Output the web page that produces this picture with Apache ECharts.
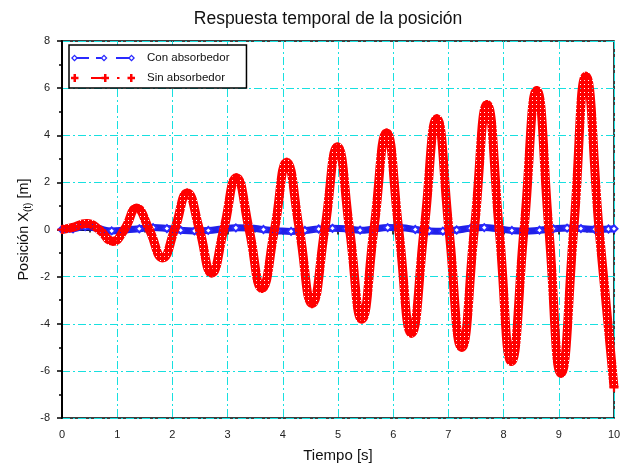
<!DOCTYPE html>
<html>
<head>
<meta charset="utf-8">
<title>Respuesta temporal de la posición</title>
<script src="https://cdn.jsdelivr.net/npm/echarts@6/dist/echarts.min.js"></script>
<style>
  html, body { margin: 0; padding: 0; background: #fff; }
  #main { width: 625px; height: 468px; }
</style>
</head>
<body>
<div id="main"></div>
<script>
// datos: [tiempo s, posicion m]
var conAbsorbedor = [
  [0, 0], [0.2, 0.03], [0.42, 0.12], [0.65, 0.04], [0.9, -0.06], [1.15, -0.02],
  [1.4, 0.03], [1.65, 0.08], [1.9, 0.04], [2.15, -0.03], [2.4, -0.06], [2.65, -0.04],
  [2.9, 0.02], [3.15, 0.07], [3.4, 0.06], [3.65, 0.0], [3.9, -0.05], [4.15, -0.08],
  [4.4, -0.04], [4.65, 0.02], [4.9, 0.05], [5.15, 0.03], [5.4, -0.03], [5.65, 0.02],
  [5.9, 0.08], [6.15, 0.07], [6.4, 0.0], [6.65, -0.06], [6.9, -0.07], [7.15, -0.02],
  [7.4, 0.05], [7.65, 0.08], [7.9, 0.03], [8.15, -0.04], [8.4, -0.07], [8.65, -0.03],
  [8.9, 0.03], [9.15, 0.06], [9.4, 0.04], [9.65, 0.01], [9.9, 0.02], [10, 0.03]
];
// picos, valles y pasos por cero del caso sin absorbedor
var sinAbsorbedor = [
  [0, 0], [0.18, 0.08], [0.45, 0.25], [0.67, 0], [0.92, -0.5], [1.13, 0],
  [1.35, 0.9], [1.58, 0], [1.82, -1.2], [2.04, 0], [2.27, 1.55], [2.49, 0],
  [2.71, -1.85], [2.93, 0], [3.16, 2.2], [3.39, 0], [3.62, -2.5], [3.85, 0],
  [4.07, 2.85], [4.30, 0], [4.53, -3.15], [4.76, 0], [4.99, 3.5], [5.21, 0],
  [5.43, -3.8], [5.65, 0], [5.88, 4.1], [6.10, 0], [6.33, -4.4], [6.56, 0],
  [6.79, 4.7], [7.01, 0], [7.24, -5.0], [7.47, 0], [7.70, 5.3], [7.92, 0],
  [8.14, -5.6], [8.37, 0], [8.60, 5.9], [8.82, 0], [9.04, -6.1], [9.27, 0],
  [9.49, 6.5], [9.73, 0], [10, -6.7]
];
var nombres = ['Con absorbedor', 'Sin absorbedor'];
var tiempoMin = 0, tiempoMax = 10, tiempoPaso = 1;
var posMin = -8, posMax = 8, posPaso = 2;

(function(){
    var myChart = echarts.init(document.getElementById('main'), null, { renderer: 'canvas' });
    var fuente = '"Liberation Sans", Arial, sans-serif';
    var cian = '#18e0e0';

    // textura de cruces para imitar la banda de marcadores '+'
    function texturaCruz(color) {
        var c = document.createElement('canvas');
        c.width = 4; c.height = 4;
        var ctx = c.getContext('2d');
        ctx.fillStyle = color;
        ctx.fillRect(0, 0, 4, 4);
        ctx.clearRect(0, 0, 1, 1);
        return c;
    }

    // iconos de la leyenda: marcador + trazo como en el original
    var iconoCon = 'path://M3.5 1.5L7 5L3.5 8.5L0 5Z M3.5 3.3L1.8 5L3.5 6.7L5.2 5Z' +
        'M6.5 4.1H18V5.9H6.5Z M25 4.1H30V5.9H25Z' +
        'M33 1.5L36.5 5L33 8.5L29.5 5Z M33 3.3L31.3 5L33 6.7L34.7 5Z' +
        'M45 4.1H57.5V5.9H45Z' +
        'M60.5 1.5L64 5L60.5 8.5L57 5Z M60.5 3.3L58.8 5L60.5 6.7L62.2 5Z';
    var iconoSin = 'path://M2.5 1H5V9H2.5Z M0 3.8H7.5V6.2H0Z' +
        'M20 4H34V6H20Z' +
        'M33 1H35.5V9H33Z M30.5 3.8H38V6.2H30.5Z' +
        'M46 4H48.5V6H46Z' +
        'M59 1H61.5V9H59Z M56.5 3.8H64V6.2H56.5Z';
    var cruz = 'path://M3 0H5V8H3Z M0 3H8V5H0Z';

    var option = {
        animation: false,
        backgroundColor: '#fff',
        title: {
            text: 'Respuesta temporal de la posición',
            left: 328,
            top: 10,
            padding: 0,
            textAlign: 'center',
            textStyle: { fontFamily: fuente, fontSize: 17.5, fontWeight: 'normal', color: '#111' }
        },
        grid: {
            left: 62, right: 11, top: 41, bottom: 48,
            show: true,
            borderColor: '#000',
            borderWidth: 1.5
        },
        legend: {
            orient: 'vertical',
            left: 69,
            top: 45,
            padding: [7, 17, 4, 2],
            itemGap: 8,
            itemWidth: 64,
            itemHeight: 10,
            backgroundColor: '#fff',
            borderColor: '#000',
            borderWidth: 1.5,
            borderRadius: 0,
            textStyle: { fontFamily: fuente, fontSize: 11.5, color: '#111', padding: [0, 0, 0, 7] },
            data: [
                { name: nombres[0], icon: iconoCon, itemStyle: { color: '#2a2aff', borderWidth: 0 } },
                { name: nombres[1], icon: iconoSin, itemStyle: { color: '#ff0000', borderWidth: 0 } }
            ]
        },
        xAxis: {
            type: 'value',
            min: tiempoMin, max: tiempoMax, interval: tiempoPaso,
            name: 'Tiempo [s]',
            nameLocation: 'middle',
            nameGap: 30,
            nameMoveOverlap: false,
            nameTextStyle: { fontFamily: fuente, fontSize: 15, color: '#111' },
            axisLine: { show: true, lineStyle: { color: '#000', width: 2 } },
            axisTick: { show: true, inside: false, length: 5, lineStyle: { color: '#000', width: 1.5 } },
            minorTick: { show: true, splitNumber: 2, length: 3, lineStyle: { color: '#000', width: 1.5 } },
            axisLabel: { margin: 11, fontFamily: fuente, fontSize: 11, color: '#222' },
            splitLine: { show: true, lineStyle: { color: cian, width: 1, type: [8, 3, 2, 3] } }
        },
        yAxis: {
            type: 'value',
            min: posMin, max: posMax, interval: posPaso,
            name: 'Posición X{sub|(t)} [m]',
            nameLocation: 'middle',
            nameGap: 29,
            nameMoveOverlap: false,
            nameTextStyle: {
                fontFamily: fuente, fontSize: 14.5, color: '#111',
                rich: { sub: { fontFamily: fuente, fontSize: 10, color: '#111', padding: [8, 0, 0, 0] } }
            },
            axisLine: { show: true, onZero: false, lineStyle: { color: '#000', width: 2 } },
            axisTick: { show: true, inside: false, length: 5, lineStyle: { color: '#000', width: 1.5 } },
            minorTick: { show: true, splitNumber: 2, length: 3, lineStyle: { color: '#000', width: 1.5 } },
            axisLabel: { margin: 12, fontFamily: fuente, fontSize: 11, color: '#222' },
            splitLine: { show: true, lineStyle: { color: cian, width: 1, type: [8, 3, 2, 3] } }
        },
        series: [
            {
                name: nombres[0],
                type: 'line',
                data: conAbsorbedor,
                smooth: true,
                symbol: 'emptyDiamond',
                symbolSize: 7,
                showAllSymbol: true,
                itemStyle: { color: '#2a2aff', borderWidth: 1 },
                lineStyle: { color: '#2020e8', width: 7 },
                z: 2
            },
            {
                name: nombres[1],
                type: 'line',
                data: sinAbsorbedor,
                smooth: true,
                symbol: cruz,
                symbolSize: 9,
                showAllSymbol: true,
                itemStyle: { color: '#ff0000' },
                lineStyle: { color: { image: texturaCruz('#ff0000'), repeat: 'repeat' }, width: 9 },
                z: 3
            }
        ]
    };
    myChart.setOption(option);
    window.addEventListener('resize', function(){
        myChart.resize();
    });
})();
</script>
</body>
</html>
